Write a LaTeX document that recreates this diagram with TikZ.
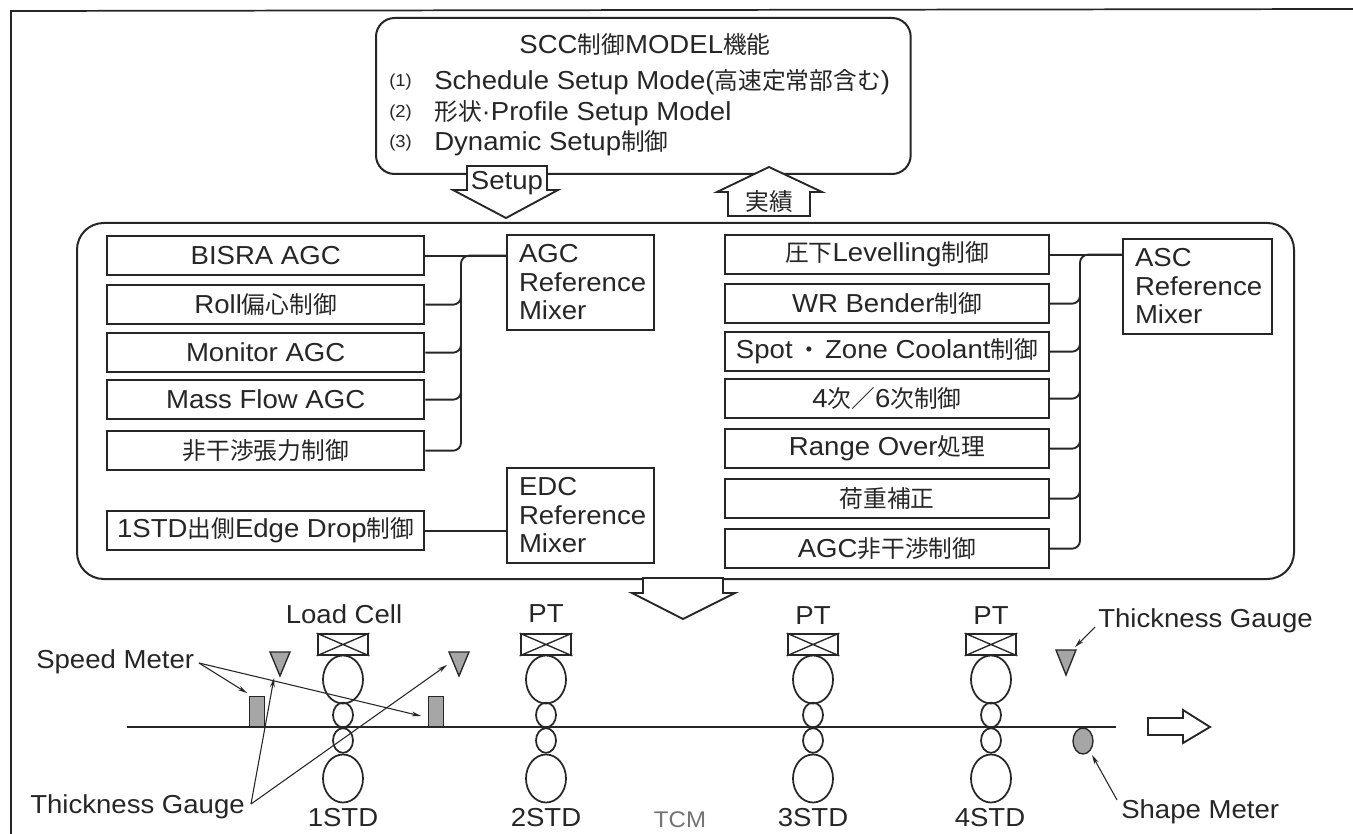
\documentclass[tikz,border=0pt]{standalone}
\usepackage{fontspec}
\setmainfont[FakeStretch=1.06]{Liberation Sans}
\newfontfamily\cjk{Noto Sans CJK JP}
\usetikzlibrary{shapes.geometric,arrows.meta,calc}
\newcommand{\J}[1]{{\cjk\fontsize{17.8}{20}\selectfont #1}}
\colorlet{ink}{black!85}
\tikzset{
  x=0.75pt,y=-0.75pt,
  every node/.style={text=ink,font=\fontsize{19.5}{22}\selectfont,inner sep=0pt},
  frame/.style={draw=ink,line width=1.5pt},
  ctl/.style={frame,fill=white,minimum width=238pt,minimum height=29.5pt,anchor=north west},
  ctlb/.style={ctl,minimum width=243pt},
  mixbox/.style={frame,fill=white,anchor=north west,align=left,text width=#1,minimum height=71pt,inner xsep=9pt,font=\fontsize{19.5}{21.5}\selectfont},
  conn/.style={draw=ink,line width=1.4pt,rounded corners=6pt},
  bigroll/.style={ellipse,draw=ink,line width=1.3pt,minimum width=30pt,minimum height=36pt},
  smallroll/.style={ellipse,draw=ink,line width=1.3pt,minimum width=15pt,minimum height=18.5pt},
  chock/.style={frame,minimum width=38pt,minimum height=15.5pt},
  hollow/.style={draw=ink,line width=1.4pt,fill=white,line join=miter},
  meter/.style={draw=ink,line width=1pt,fill=black!35},
  lead/.style={draw=ink,line width=0.8pt,-{Stealth[length=7pt,width=3.5pt]}},
  lab/.style={anchor=west},
  paren/.style={anchor=west,font=\fontsize{13}{15}\selectfont}
}
\newcommand{\mill}[2]{%
  \node[chock] (#1c) at (#2,644.5) {};
  \draw[ink,line width=1pt] (#1c.north west) -- (#1c.south east) (#1c.south west) -- (#1c.north east);
  \node[bigroll] (#1a) at (#2,679.5) {};
  \node[smallroll] (#1b) at (#2,715) {};
  \node[smallroll] (#1d) at (#2,740.5) {};
  \node[bigroll] (#1e) at (#2,778.5) {};
}
\begin{document}
\begin{tikzpicture}
\useasboundingbox (0,0) rectangle (1353,834);
\fill[white] (0,0) rectangle (1353,834);
% outer frame
\draw[ink,line width=1.3pt] (1353,9) -- (11,11) -- (11,834);
% top box
\node[frame,rounded corners=14pt,minimum width=401pt,minimum height=117pt,anchor=north west] (top) at (375,17) {};
\node (title) at (645,44) {SCC\J{制御}MODEL\J{機能}};
\node[paren] (n1) at (389,82) {(1)};
\node[paren] (n2) at (389,113) {(2)};
\node[paren] (n3) at (389,143) {(3)};
\node[lab] (l1) at (434,82) {Schedule Setup Mode(\J{高速定常部含む})};
\node[lab] (l2) at (434,113) {\J{形状}·Profile Setup Model};
\node[lab] (l3) at (434,143) {Dynamic Setup\J{制御}};
% big box
\node[frame,rounded corners=20pt,minimum width=912.75pt,minimum height=267pt,anchor=north west] (big) at (76,222) {};
% arrows
\draw[hollow] (467,166) -- (547,166) -- (547,190) -- (558,190) -- (506,218) -- (453,190) -- (467,190) -- cycle;
\node (setup) at (507,183) {Setup};
\draw[hollow] (769,167) -- (822,192) -- (810,192) -- (810,216) -- (728,216) -- (728,192) -- (717,192) -- cycle;
\node (jis) at (769,202) {\J{実績}};
\draw[hollow] (643,578) -- (723,578) -- (723,593) -- (735,593) -- (683,619) -- (632,593) -- (643,593) -- cycle;
% left column
\node[ctl] (a1) at (106,235) {BISRA AGC};
\node[ctl] (a2) at (106,284) {Roll\J{偏心制御}};
\node[ctl] (a3) at (106,332) {Monitor AGC};
\node[ctl] (a4) at (106,379) {Mass Flow AGC};
\node[ctl] (a5) at (106,430) {\J{非干渉張力制御}};
\node[ctl] (e1) at (106,510) {1STD\J{出側}Edge Drop\J{制御}};
\node[mixbox=92pt] (mixA) at (506,234) {AGC\\Reference\\Mixer};
\node[mixbox=92pt] (mixE) at (506,467) {EDC\\Reference\\Mixer};
\coordinate (busA) at (461,0);
\draw[conn] (a1.east) -- (a1.east -| mixA.west);
\draw[conn] (a1.east -| mixA.west) -- (busA |- a1.east) -- (busA |- a5.east) -- (a5.east);
\foreach \n in {a2,a3,a4}
  \draw[conn] (\n.east) -- (busA |- \n.east) -- ($(busA |- \n.east)+(0,-14)$);
\draw[conn] (e1.east) -- (e1.east -| mixE.west);
% right column
\node[ctlb] (b1) at (724,234) {\J{圧下}Levelling\J{制御}};
\node[ctlb] (b2) at (724,283) {WR Bender\J{制御}};
\node[ctlb] (b3) at (724,331) {Spot\,\J{・}\,Zone Coolant\J{制御}};
\node[ctlb] (b4) at (724,378) {4\J{次／}6\J{次制御}};
\node[ctlb] (b5) at (724,428) {Range Over\J{処理}};
\node[ctlb] (b6) at (724,478) {\J{荷重補正}};
\node[ctlb] (b7) at (724,528) {AGC\J{非干渉制御}};
\node[mixbox=94pt] (mixS) at (1122,238) {ASC\\Reference\\Mixer};
\coordinate (busB) at (1080,0);
\draw[conn] (b1.east) -- (b1.east -| mixS.west);
\draw[conn] (b1.east -| mixS.west) -- (busB |- b1.east) -- (busB |- b7.east) -- (b7.east);
\foreach \n in {b2,b3,b4,b5,b6}
  \draw[conn] (\n.east) -- (busB |- \n.east) -- ($(busB |- \n.east)+(0,-14)$);
% mill
\coordinate (stripL) at (127,727);
\coordinate (stripR) at (1116,727);
\draw[ink,line width=1.7pt] (stripL) -- (stripR);
\mill{p}{343}
\mill{q}{546}
\mill{r}{813}
\mill{s}{991}
\node (t1) at (344,614) {Load Cell};
\node (t2) at (546,614) {PT};
\node (t3) at (813,616) {PT};
\node (t4) at (991,616) {PT};
\node (s1) at (343,818) {1STD};
\node (s2) at (546,818) {2STD};
\node[text=black!55,font=\fontsize{17}{19}\selectfont] (tcm) at (680,820) {TCM};
\node (s3) at (813,818) {3STD};
\node (s4) at (990,818) {4STD};
% meters
\node[meter,minimum width=11.5pt,minimum height=22.5pt,anchor=south] (v1) at (257,727) {};
\node[meter,minimum width=11.5pt,minimum height=22.5pt,anchor=south] (v2) at (436,727) {};
\draw[meter] (270,652) -- (290,652) -- (280,676) -- cycle;
\draw[meter] (449,652) -- (469,652) -- (459,676) -- cycle;
\draw[meter] (1056,650) -- (1076,650) -- (1066,675) -- cycle;
\node[meter,ellipse,minimum width=15pt,minimum height=19.5pt] (shp) at (1083,741) {};
% labels
\node[lab] (smt) at (36,662) {Speed Meter};
\node[lab] (tg1) at (30,807) {Thickness Gauge};
\node[lab] (tg2) at (1098,621) {Thickness Gauge};
\node[lab] (shm) at (1121,812) {Shape Meter};
% leaders
\coordinate (smo) at (199,663);
\coordinate (tgo) at (251,804);
\coordinate (tgr) at (1095,627);
\coordinate (sho) at (1117,800);
\coordinate (h1) at (247,693);
\coordinate (h2) at (421,716);
\coordinate (h3) at (274,678);
\coordinate (h4) at (447,665);
\coordinate (h5) at (1075,647);
\coordinate (h6) at (1092,755);
\draw[lead] (smo) -- (h1);
\draw[lead] (smo) -- (h2);
\draw[lead] (tgo) -- (h3);
\draw[lead] (tgo) -- (h4);
\draw[lead] (tgr) -- (h5);
\draw[lead] (sho) -- (h6);
% exit arrow
\draw[hollow] (1148,718) -- (1183,718) -- (1183,710) -- (1210,727) -- (1183,743) -- (1183,735) -- (1148,735) -- cycle;
\end{tikzpicture}
\end{document}
